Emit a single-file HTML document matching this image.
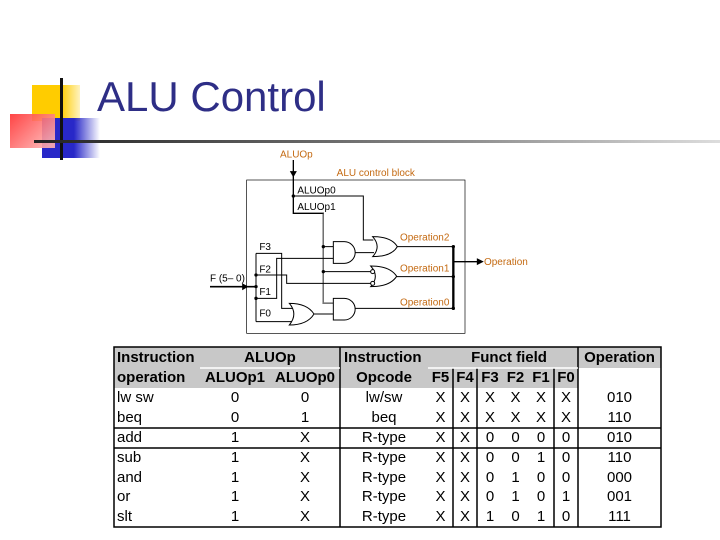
<!DOCTYPE html>
<html><head><style>
body{margin:0;width:720px;height:540px;background:#fff;position:relative;overflow:hidden;font-family:"Liberation Sans",Arial,sans-serif}
.a{position:absolute}
.t{position:absolute;font-size:15px;line-height:20px;white-space:nowrap;color:#000}
.c{text-align:center}
.b{font-weight:bold}
</style></head><body>
<div class="a" style="left:32px;top:85px;width:48px;height:36px;background:linear-gradient(90deg,#ffcc00 60%,#fff3c0)"></div>
<div class="a" style="left:42px;top:118px;width:58px;height:40px;background:linear-gradient(90deg,#2828c8 55%,rgba(40,40,200,0))"></div>
<div class="a" style="left:10px;top:114px;width:45px;height:34px;background:linear-gradient(135deg,#ff3030,#ffb0b0 90%);opacity:.9"></div>
<div class="a" style="left:60px;top:78px;width:3px;height:82px;background:#111"></div>
<div class="a" style="left:34px;top:140px;width:686px;height:3px;background:linear-gradient(90deg,#222,#888 60%,#ddd)"></div>
<div class="a" style="left:97px;top:72px;font-size:42px;color:#2e2e86;line-height:50px">ALU Control</div>

<svg class="a" style="left:0;top:0" width="720" height="540">
<g transform="translate(200,140) scale(0.33333)" fill="none" stroke="#000" stroke-width="3" font-family="Liberation Sans,Arial,sans-serif">
<rect x="140" y="120" width="655" height="460" stroke-width="2"/>
<g stroke="none" font-size="30" fill="#c46a12">
<text x="240" y="52">ALUOp</text><text x="410" y="108">ALU control block</text>
<text x="600" y="302">Operation2</text><text x="600" y="394">Operation1</text><text x="600" y="497">Operation0</text>
<text x="852" y="375">Operation</text></g>
<g stroke="none" font-size="30" fill="#000">
<text x="292" y="160">ALUOp0</text><text x="292" y="210">ALUOp1</text>
<text x="30" y="425">F (5– 0)</text>
<text x="178" y="330">F3</text><text x="178" y="397">F2</text><text x="178" y="465">F1</text><text x="178" y="530">F0</text></g>
<path d="M280 60V220H370V490H400" stroke-width="4"/>
<path d="M370 220V490H400" stroke="#888"/>
<path d="M272 95l8 14 8-14z" fill="#000"/>
<path d="M280 168H490V300H520"/>
<path d="M370 320H400M370 395H512"/>
<path d="M168 340V545M168 340H245V505H280M168 405H260V430H512M168 475H230V355H400M168 545H278"/>
<path d="M30 440H168" stroke-width="5"/>
<path d="M128 432l14 8-14 8z" fill="#000"/>
<path d="M465 338H522M590 320H760M590 410H760M465 505H760M340 522H400"/>
<path d="M760 318V508" stroke-width="7"/>
<path d="M760 365H835" stroke-width="4"/><path d="M832 357l16 8-16 8z" fill="#000"/>
<g fill="#000" stroke="none">
<circle cx="280" cy="168" r="5"/><circle cx="370" cy="320" r="5"/><circle cx="370" cy="395" r="5"/>
<circle cx="168" cy="405" r="5"/><circle cx="168" cy="475" r="5"/><circle cx="168" cy="440" r="5"/>
<circle cx="760" cy="320" r="5"/><circle cx="760" cy="410" r="5"/><circle cx="760" cy="505" r="5"/></g>
<path d="M400 305H433A32 32 0 0 1 433 370H400Z" fill="#fff"/>
<path d="M400 475H433A32 32 0 0 1 433 540H400Z" fill="#fff"/>
<path d="M518 290Q545 320 518 350Q575 350 592 320Q575 290 518 290Z" fill="#fff"/>
<path d="M512 378Q540 409 512 440Q570 440 590 409Q570 378 512 378Z" fill="#fff"/>
<path d="M268 490Q295 522 268 555Q322 555 342 522Q322 490 268 490Z" fill="#fff"/>
<circle cx="518" cy="395" r="6" fill="#fff"/><circle cx="518" cy="430" r="6" fill="#fff"/>
</g>
<rect x="114" y="347" width="547" height="21" fill="#c8c8c8"/>
<rect x="114" y="367" width="464" height="21" fill="#c8c8c8"/>
<g stroke="#000" stroke-width="1.5" fill="none">
<rect x="114" y="347" width="547" height="180"/>
<path d="M340 347V527M578 347V527M453 368V527M477 368V527M554 368V527M114 428H661M114 448H661"/>
</g>
<path d="M200 368H340M428 368H578" stroke="#fff" stroke-width="1.5"/>
</svg>

<div class="t b" style="left:117px;top:348px">Instruction</div>
<div class="t b c" style="left:200px;width:140px;top:348px">ALUOp</div>
<div class="t b" style="left:344px;top:348px">Instruction</div>
<div class="t b c" style="left:440px;width:138px;top:348px">Funct field</div>
<div class="t b c" style="left:578px;width:83px;top:348px">Operation</div>
<div class="t b" style="left:117px;top:368px">operation</div>
<div class="t b c" style="left:200px;width:70px;top:368px">ALUOp1</div>
<div class="t b c" style="left:270px;width:70px;top:368px">ALUOp0</div>
<div class="t b c" style="left:340px;width:88px;top:368px">Opcode</div>
<div class="t b c" style="left:428px;width:25px;top:368px">F5</div>
<div class="t b c" style="left:453px;width:24px;top:368px">F4</div>
<div class="t b c" style="left:477px;width:26px;top:368px">F3</div>
<div class="t b c" style="left:503px;width:25px;top:368px">F2</div>
<div class="t b c" style="left:528px;width:26px;top:368px">F1</div>
<div class="t b c" style="left:554px;width:24px;top:368px">F0</div>

<div class="t" style="left:117px;top:388px">lw sw</div><div class="t c" style="left:200px;width:70px;top:388px">0</div><div class="t c" style="left:270px;width:70px;top:388px">0</div><div class="t c" style="left:340px;width:88px;top:388px">lw/sw</div><div class="t c" style="left:428px;width:25px;top:388px">X</div><div class="t c" style="left:453px;width:24px;top:388px">X</div><div class="t c" style="left:477px;width:26px;top:388px">X</div><div class="t c" style="left:503px;width:25px;top:388px">X</div><div class="t c" style="left:528px;width:26px;top:388px">X</div><div class="t c" style="left:554px;width:24px;top:388px">X</div><div class="t c" style="left:578px;width:83px;top:388px">010</div>
<div class="t" style="left:117px;top:408px">beq</div><div class="t c" style="left:200px;width:70px;top:408px">0</div><div class="t c" style="left:270px;width:70px;top:408px">1</div><div class="t c" style="left:340px;width:88px;top:408px">beq</div><div class="t c" style="left:428px;width:25px;top:408px">X</div><div class="t c" style="left:453px;width:24px;top:408px">X</div><div class="t c" style="left:477px;width:26px;top:408px">X</div><div class="t c" style="left:503px;width:25px;top:408px">X</div><div class="t c" style="left:528px;width:26px;top:408px">X</div><div class="t c" style="left:554px;width:24px;top:408px">X</div><div class="t c" style="left:578px;width:83px;top:408px">110</div>
<div class="t" style="left:117px;top:428px">add</div><div class="t c" style="left:200px;width:70px;top:428px">1</div><div class="t c" style="left:270px;width:70px;top:428px">X</div><div class="t c" style="left:340px;width:88px;top:428px">R-type</div><div class="t c" style="left:428px;width:25px;top:428px">X</div><div class="t c" style="left:453px;width:24px;top:428px">X</div><div class="t c" style="left:477px;width:26px;top:428px">0</div><div class="t c" style="left:503px;width:25px;top:428px">0</div><div class="t c" style="left:528px;width:26px;top:428px">0</div><div class="t c" style="left:554px;width:24px;top:428px">0</div><div class="t c" style="left:578px;width:83px;top:428px">010</div>
<div class="t" style="left:117px;top:448px">sub</div><div class="t c" style="left:200px;width:70px;top:448px">1</div><div class="t c" style="left:270px;width:70px;top:448px">X</div><div class="t c" style="left:340px;width:88px;top:448px">R-type</div><div class="t c" style="left:428px;width:25px;top:448px">X</div><div class="t c" style="left:453px;width:24px;top:448px">X</div><div class="t c" style="left:477px;width:26px;top:448px">0</div><div class="t c" style="left:503px;width:25px;top:448px">0</div><div class="t c" style="left:528px;width:26px;top:448px">1</div><div class="t c" style="left:554px;width:24px;top:448px">0</div><div class="t c" style="left:578px;width:83px;top:448px">110</div>
<div class="t" style="left:117px;top:468px">and</div><div class="t c" style="left:200px;width:70px;top:468px">1</div><div class="t c" style="left:270px;width:70px;top:468px">X</div><div class="t c" style="left:340px;width:88px;top:468px">R-type</div><div class="t c" style="left:428px;width:25px;top:468px">X</div><div class="t c" style="left:453px;width:24px;top:468px">X</div><div class="t c" style="left:477px;width:26px;top:468px">0</div><div class="t c" style="left:503px;width:25px;top:468px">1</div><div class="t c" style="left:528px;width:26px;top:468px">0</div><div class="t c" style="left:554px;width:24px;top:468px">0</div><div class="t c" style="left:578px;width:83px;top:468px">000</div>
<div class="t" style="left:117px;top:487px">or</div><div class="t c" style="left:200px;width:70px;top:487px">1</div><div class="t c" style="left:270px;width:70px;top:487px">X</div><div class="t c" style="left:340px;width:88px;top:487px">R-type</div><div class="t c" style="left:428px;width:25px;top:487px">X</div><div class="t c" style="left:453px;width:24px;top:487px">X</div><div class="t c" style="left:477px;width:26px;top:487px">0</div><div class="t c" style="left:503px;width:25px;top:487px">1</div><div class="t c" style="left:528px;width:26px;top:487px">0</div><div class="t c" style="left:554px;width:24px;top:487px">1</div><div class="t c" style="left:578px;width:83px;top:487px">001</div>
<div class="t" style="left:117px;top:507px">slt</div><div class="t c" style="left:200px;width:70px;top:507px">1</div><div class="t c" style="left:270px;width:70px;top:507px">X</div><div class="t c" style="left:340px;width:88px;top:507px">R-type</div><div class="t c" style="left:428px;width:25px;top:507px">X</div><div class="t c" style="left:453px;width:24px;top:507px">X</div><div class="t c" style="left:477px;width:26px;top:507px">1</div><div class="t c" style="left:503px;width:25px;top:507px">0</div><div class="t c" style="left:528px;width:26px;top:507px">1</div><div class="t c" style="left:554px;width:24px;top:507px">0</div><div class="t c" style="left:578px;width:83px;top:507px">111</div>
</body></html>
